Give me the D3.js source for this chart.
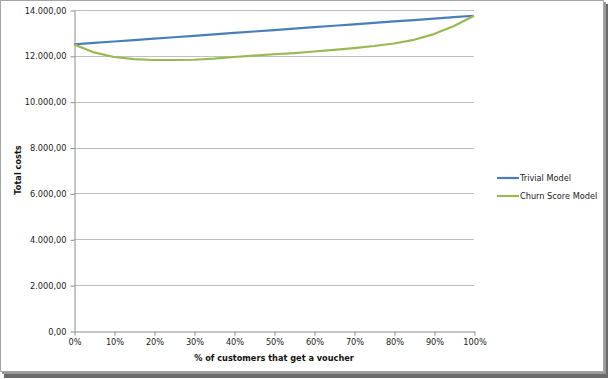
<!DOCTYPE html>
<html><head><meta charset="utf-8">
<script src="https://cdn.jsdelivr.net/npm/d3@7"></script>
<style>body{margin:0;background:#fff}svg{display:block}text{font-family:"DejaVu Sans",Verdana,sans-serif}</style>
</head><body><svg id="c" width="609" height="379"></svg>
<script>
const xValues = [0,5,10,15,20,25,30,35,40,45,50,55,60,65,70,75,80,85,90,95,100];
const trivial = [12500,12562,12625,12687,12750,12812,12875,12937,13000,13062,13125,13187,13250,13312,13375,13437,13500,13562,13625,13687,13750];
const churn = [12500,12150,11950,11860,11820,11820,11830,11880,11950,12010,12070,12120,12190,12260,12340,12430,12540,12700,12950,13300,13750];
const yTicks = [0,2000,4000,6000,8000,10000,12000,14000];
const xTicks = [0,10,20,30,40,50,60,70,80,90,100];
const seriesNames = ["Trivial Model","Churn Score Model"];
const colors = ["#4a7ebb","#98b954"];

const svg = d3.select("#c");
// frame with shadow
svg.append("rect").attr("x",4).attr("y",4).attr("width",604).attr("height",374).attr("fill","#6b6b6b");
svg.append("rect").attr("x",2).attr("y",2).attr("width",604).attr("height",372).attr("fill","#9a9a9a");
svg.append("rect").attr("x",0.5).attr("y",0.5).attr("width",603).attr("height",371).attr("fill","#fff").attr("stroke","#a6a6a6");

const x = d3.scaleLinear().domain([0,100]).range([74,474]);
const y = d3.scaleLinear().domain([0,14000]).range([331,10]);

const fmt = d3.formatLocale({decimal:",",thousands:".",grouping:[3],currency:["",""]}).format(",.2f");

// gridlines
svg.append("g").selectAll("line").data(yTicks.filter(d=>d>0)).join("line")
  .attr("x1",74).attr("x2",474).attr("y1",d=>Math.round(y(d))+0.5).attr("y2",d=>Math.round(y(d))+0.5)
  .attr("stroke","#bfbfbf").attr("stroke-width",1);

const yAxis = svg.append("g").attr("transform","translate(74.5,0.5)")
  .call(d3.axisLeft(y).tickValues(yTicks).tickFormat(fmt).tickSize(4).tickSizeOuter(0));
const xAxis = svg.append("g").attr("transform","translate(0.5,331.5)")
  .call(d3.axisBottom(x).tickValues(xTicks).tickFormat(d=>d+"%").tickSize(4).tickSizeOuter(0));
[yAxis,xAxis].forEach(a=>{
  a.select(".domain").attr("stroke","#8c8c8c");
  a.selectAll(".tick line").attr("stroke","#8c8c8c");
  a.selectAll("text").attr("fill","#222").style("font-size","8.2px").style("font-family","'DejaVu Sans',sans-serif");
});
yAxis.selectAll("text").attr("x",-8);
xAxis.selectAll("text").attr("y",8);

const line = d3.line().x((d,i)=>x(xValues[i])).y(d=>y(d));
[trivial,churn].forEach((s,i)=>{
  svg.append("path").datum(s).attr("d",line).attr("fill","none")
    .attr("stroke",colors[i]).attr("stroke-width",2.2).attr("stroke-linejoin","round");
});

// axis titles
svg.append("text").attr("x",274).attr("y",361).attr("text-anchor","middle")
  .style("font-size","8.2px").style("font-weight","bold").attr("fill","#111").text("% of customers that get a voucher");
svg.append("text").attr("transform","translate(21,170) rotate(-90)").attr("text-anchor","middle")
  .style("font-size","8.2px").style("font-weight","bold").attr("fill","#111").text("Total costs");

// legend
const lg = svg.append("g");
seriesNames.forEach((n,i)=>{
  const yy = 178 + i*18;
  lg.append("line").attr("x1",497).attr("x2",519).attr("y1",yy).attr("y2",yy).attr("stroke",colors[i]).attr("stroke-width",2.2);
  lg.append("text").attr("x",520).attr("y",yy+3).style("font-size","8.2px").attr("fill","#222").text(n);
});
</script></body></html>
